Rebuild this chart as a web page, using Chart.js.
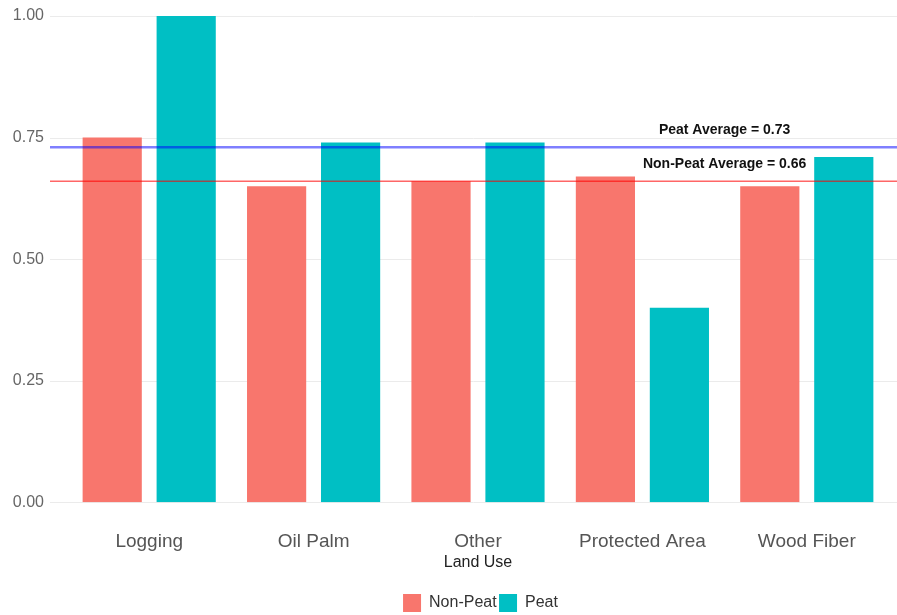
<!DOCTYPE html>
<html>
<head>
<meta charset="utf-8">
<script src="https://cdn.jsdelivr.net/npm/chart.js@4.4.0/dist/chart.umd.min.js"></script>
<style>
  html, body { margin: 0; padding: 0; background: #fff; }
  canvas { display: block; }
</style>
</head>
<body>
<canvas id="landUseChart" width="897" height="615"></canvas>
<script>
// Land use categories and the two series
const landUses = ["Logging", "Oil Palm", "Other", "Protected Area", "Wood Fiber"];
const nonPeat = [0.75, 0.65, 0.66, 0.67, 0.65];
const peat = [1.00, 0.74, 0.74, 0.40, 0.71];

// Reference lines (averages per series)
const avgLabels = ["Peat Average", "Non-Peat Average"];
const avgValues = [0.73, 0.66];
const avgColors = ["rgba(0, 0, 255, 0.5)", "rgba(255, 0, 0, 0.6)"];
const avgWidths = [2.5, 1.5];

const yTicks = [0, 0.25, 0.5, 0.75, 1];

const FONT = "'Liberation Sans', Arial, sans-serif";
const GRID_LEFT = 50;

// horizontal grid across the whole panel, behind the bars
const panelGrid = {
  id: "panelGrid",
  beforeDatasetsDraw(chart) {
    const { ctx, scales: { y } } = chart;
    ctx.save();
    ctx.strokeStyle = "#ebebeb";
    ctx.lineWidth = 1;
    yTicks.forEach((v) => {
      const py = Math.round(y.getPixelForValue(v)) + 0.5;
      ctx.beginPath();
      ctx.moveTo(GRID_LEFT, py);
      ctx.lineTo(chart.width, py);
      ctx.stroke();
    });
    ctx.restore();
  },
};

// average lines with their labels, on top of the bars
const averageLines = {
  id: "averageLines",
  afterDatasetsDraw(chart) {
    const { ctx, scales: { x, y } } = chart;
    const labelX = x.getPixelForValue(3.5);
    ctx.save();
    avgValues.forEach((v, i) => {
      const py = y.getPixelForValue(v);
      ctx.strokeStyle = avgColors[i];
      ctx.lineWidth = avgWidths[i];
      ctx.beginPath();
      ctx.moveTo(GRID_LEFT, py);
      ctx.lineTo(chart.width, py);
      ctx.stroke();

      ctx.fillStyle = "#111";
      ctx.font = "bold 14px " + FONT;
      ctx.textAlign = "center";
      ctx.textBaseline = "middle";
      ctx.fillText(avgLabels[i] + " = " + v.toFixed(2), labelX, py - 17);
    });
    ctx.restore();
  },
};

// nudge the legend right and down
const legendShift = {
  id: "legendShift",
  afterLayout(chart) {
    const lg = chart.legend;
    lg.left += 36;
    lg.right += 36;
    lg.top += 7;
    lg.bottom += 7;
  },
};

new Chart(document.getElementById("landUseChart"), {
  type: "bar",
  data: {
    labels: landUses,
    datasets: [
      { label: "Non-Peat", data: nonPeat, backgroundColor: "#F8766D" },
      { label: "Peat", data: peat, backgroundColor: "#00BFC4" },
    ],
  },
  options: {
    responsive: false,
    animation: false,
    categoryPercentage: 0.9,
    barPercentage: 0.8,
    layout: { padding: { top: 16, right: 8, left: 0, bottom: 0 } },
    plugins: {
      tooltip: { enabled: false },
      legend: {
        position: "bottom",
        labels: {
          boxWidth: 18,
          boxHeight: 18,
          padding: 2.4,
          color: "#333",
          font: { family: FONT, size: 16 },
        },
      },
    },
    scales: {
      x: {
        grid: { display: false, drawTicks: false },
        border: { display: false },
        afterFit(scale) { scale.height = 82.4; },
        ticks: { color: "#555", padding: 28.6, font: { family: FONT, size: 19 } },
        title: {
          display: true,
          text: "Land Use",
          color: "#222",
          font: { family: FONT, size: 16 },
          padding: { top: 0, bottom: 12.8 },
        },
      },
      y: {
        min: 0,
        max: 1,
        grid: { display: false, drawTicks: false },
        border: { display: false },
        afterFit(scale) {
          scale.width = 67;
          scale.paddingTop = 0;
          scale.paddingBottom = 0;
        },
        afterBuildTicks(scale) { scale.ticks = yTicks.map((v) => ({ value: v })); },
        ticks: {
          color: "#666",
          padding: 23,
          font: { family: FONT, size: 16 },
          callback: (v) => Number(v).toFixed(2),
        },
      },
    },
  },
  plugins: [panelGrid, averageLines, legendShift],
});
</script>
</body>
</html>
